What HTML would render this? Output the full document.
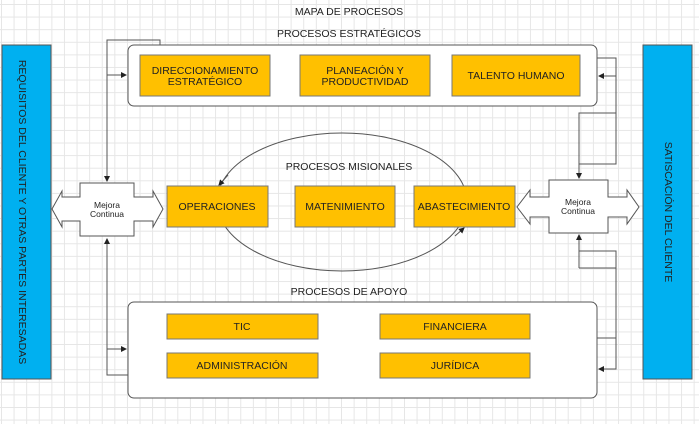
<!DOCTYPE html>
<html><head><meta charset="utf-8"><style>
body{margin:0;width:699px;height:424px;overflow:hidden;background:#fff;
background-image:linear-gradient(#e6e6e6 1px,transparent 1px),linear-gradient(90deg,#e6e6e6 1px,transparent 1px);background-size:12.6px 12.6px;background-position:1px 4px;font-family:"Liberation Sans",sans-serif}
</style></head><body>
<svg width="699" height="424" style="position:absolute;left:0;top:0" font-family="Liberation Sans, sans-serif">
<defs><marker id="a" markerWidth="6" markerHeight="6" refX="5" refY="3" orient="auto"><path d="M0,0L6,3L0,6z" fill="#222"/></marker></defs>
<rect x="2" y="45" width="49" height="334" fill="#00b0f0" stroke="#555"/>
<rect x="643" y="45" width="49" height="334" fill="#00b0f0" stroke="#555"/>
<text transform="translate(22,212) rotate(90)" text-anchor="middle" font-size="10.5" fill="#222" dominant-baseline="middle">REQUISITOS DEL CLIENTE Y OTRAS PARTES INTERESADAS</text>
<text transform="translate(668,212) rotate(90)" text-anchor="middle" font-size="10.5" fill="#222" dominant-baseline="middle">SATISCACIÓN DEL CLIENTE</text>
<text x="349" y="15" text-anchor="middle" font-size="10.5" fill="#222">MAPA DE PROCESOS</text>
<text x="349" y="37" text-anchor="middle" font-size="10.5" fill="#222">PROCESOS ESTRATÉGICOS</text>
<text x="349" y="170" text-anchor="middle" font-size="10.5" fill="#222">PROCESOS MISIONALES</text>
<text x="349" y="295" text-anchor="middle" font-size="10.5" fill="#222">PROCESOS DE APOYO</text>
<g fill="none" stroke="#555" stroke-width="1">
<rect x="128" y="45" width="469" height="61" rx="6" fill="#fff"/>
<rect x="128" y="302" width="469" height="96" rx="6" fill="#fff"/>
<ellipse cx="342" cy="202" rx="125" ry="69"/>
<path d="M160,45V40H107V181" marker-end="url(#a)"/>
<path d="M107,75H126" marker-end="url(#a)"/>
<path d="M128,375H107V239" marker-end="url(#a)"/>
<path d="M107,349H126" marker-end="url(#a)"/>
<path d="M597,58H616V164H579V113H616"/>
<path d="M616,76H599" marker-end="url(#a)"/>
<path d="M579,113V178" marker-end="url(#a)"/>
<path d="M616,251V369H599" marker-end="url(#a)"/>
<path d="M597,338H616"/>
<path d="M579,268H616V251H579V268"/>
<path d="M579,268V235" marker-end="url(#a)"/>
</g>
<path d="M228,175L219,185" stroke="#555" marker-end="url(#a)"/>
<path d="M455,236L464,228" stroke="#555" marker-end="url(#a)"/>
<g fill="#ffc000" stroke="#777">
<rect x="140" y="55" width="130" height="41"/><rect x="300" y="55" width="130" height="41"/><rect x="452" y="55" width="128" height="41"/>
<rect x="167" y="186" width="101" height="41"/><rect x="295" y="186" width="100" height="41"/><rect x="414" y="186" width="101" height="41"/>
<rect x="167" y="314" width="151" height="25"/><rect x="167" y="353" width="151" height="25"/><rect x="380" y="314" width="150" height="25"/><rect x="380" y="353" width="150" height="25"/>
</g>
<g fill="#fff" stroke="#555">
<path d="M80,183H134V197H153V191L163,209L153,227V221H134V236H80V221H62V227L52,209L62,191V197H80Z"/>
<path d="M549,180H608V197H627V190L639,207L627,224V217H608V233H549V217H530V224L517,207L530,190V197H549Z"/>
</g>
<g font-size="10.5" fill="#222" text-anchor="middle">
<text x="205" y="74">DIRECCIONAMIENTO</text><text x="205" y="85">ESTRATÉGICO</text>
<text x="365" y="74">PLANEACIÓN Y</text><text x="365" y="85">PRODUCTIVIDAD</text>
<text x="516" y="79">TALENTO HUMANO</text>
<text x="217" y="210">OPERACIONES</text><text x="345" y="210">MATENIMIENTO</text><text x="464" y="210">ABASTECIMIENTO</text>
<text x="242" y="330">TIC</text><text x="242" y="369">ADMINISTRACIÓN</text><text x="455" y="330">FINANCIERA</text><text x="455" y="369">JURÍDICA</text>
<g font-size="8.5"><text x="107" y="208">Mejora</text><text x="107" y="217">Continua</text><text x="578" y="205">Mejora</text><text x="578" y="214">Continua</text></g>
</g>
</svg>
</body></html>
